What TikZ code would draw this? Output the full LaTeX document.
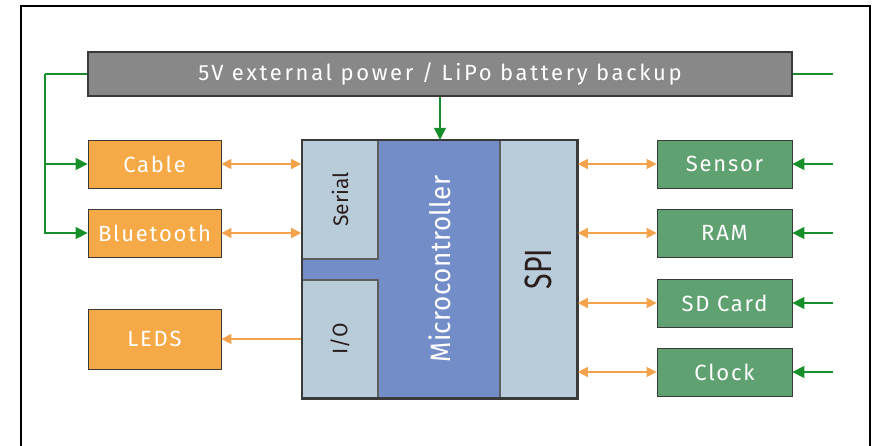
\documentclass[tikz,border=0pt]{standalone}
\usepackage{fontspec}
\setmainfont{Fira Sans}
\newfontfamily\powerfont[LetterSpace=12]{Fira Sans}
\newfontfamily\boxfont[LetterSpace=8]{Fira Sans}
\newfontfamily\mcfont[LetterSpace=2]{Fira Sans}
\usetikzlibrary{arrows.meta}
\definecolor{orangef}{HTML}{F5A947}
\definecolor{greenf}{HTML}{5FA170}
\definecolor{grayf}{HTML}{888888}
\definecolor{lblue}{HTML}{B9CCDA}
\definecolor{mblue}{HTML}{738DC8}
\definecolor{olinec}{HTML}{F5A24D}
\definecolor{glinec}{HTML}{17902B}
\definecolor{dtext}{HTML}{2A1E1E}
\definecolor{bordc}{HTML}{3A3A3A}
\definecolor{innerc}{HTML}{5E5E5E}
\tikzset{
  framestyle/.style={draw=black, line width=2pt},
  pbox/.style={draw=bordc, line width=1.3pt, fill=grayf, text=white, inner sep=0pt,
    minimum width=704pt, minimum height=44pt, font=\powerfont\fontsize{22}{24}\selectfont},
  obox/.style={draw=bordc, line width=0.8pt, fill=orangef, text=white, inner sep=0pt,
    minimum width=133pt, minimum height=48pt, font=\boxfont\fontsize{22}{24}\selectfont},
  gbox/.style={draw=bordc, line width=0.8pt, fill=greenf, text=white, inner sep=0pt,
    minimum width=135pt, minimum height=48pt, font=\boxfont\fontsize{22}{24}\selectfont},
  mcbox/.style={fill=mblue, inner sep=0pt, text=white,
    minimum width=275pt, minimum height=258pt, font=\mcfont\fontsize{28}{30}\selectfont},
  lbbox/.style={draw=innerc, line width=1.6pt, fill=lblue, inner sep=0pt, text=dtext,
    font=\fontsize{21}{23}\selectfont},
  oarr/.style={draw=olinec, line width=1.4pt,
    {Triangle[length=10pt,width=10pt]}-{Triangle[length=10pt,width=10pt]}},
  oarrone/.style={draw=olinec, line width=1.4pt, -{Triangle[length=10pt,width=10pt]}},
  gline/.style={draw=glinec, line width=1.4pt},
  garr/.style={draw=glinec, line width=1.4pt, -{Triangle[length=12pt,width=12pt]}},
}
\begin{document}
\begin{tikzpicture}[x=1pt,y=-1pt]
\useasboundingbox (0,0) rectangle (876,445);
\draw[framestyle] (21,446) -- (21,6) -- (870,6) -- (870,446);

\node[pbox] (power) at (440,74) {5V external power / LiPo battery backup};

\node[obox] (cable) at (154.5,164) {Cable};
\node[obox] (bt) at (154.5,233) {Bluetooth};
\node[obox, minimum height=60pt] (leds) at (154.5,339) {LEDS};

\node[gbox] (sensor) at (724.5,164) {Sensor};
\node[gbox] (ram) at (724.5,233) {RAM};
\node[gbox] (sd) at (724.5,303) {SD Card};
\node[gbox] (clock) at (724.5,372) {Clock};

\node[mcbox] (mc) at (439.5,269) {\rotatebox{90}{\scalebox{0.93}[1]{Microcontroller}}};
\node[lbbox, minimum width=76pt, minimum height=119pt] (serial) at (340,199.5) {\rotatebox{90}{Serial}};
\node[lbbox, minimum width=76pt, minimum height=118pt] (io) at (340,339) {\rotatebox{90}{I/O}};
\node[lbbox, minimum width=77pt, minimum height=258pt, font=\fontsize{38}{40}\selectfont] (spi) at (538.5,269) {\rotatebox{90}{\scalebox{0.75}[1]{SPI}}};
\draw[draw=bordc, line width=2.6pt] (mc.north west) rectangle (mc.south east);

% power distribution
\coordinate (gl) at (45,74);
\coordinate (gr) at (833,74);
\draw[gline] (power.west) -- (gl);
\draw[garr] (gl) |- (bt.west);
\draw[garr] (gl |- cable.west) -- (cable.west);
\draw[gline] (power.east) -- (gr);
\draw[garr] (gr |- sensor.east) -- (sensor.east);
\draw[garr] (gr |- ram.east) -- (ram.east);
\draw[garr] (gr |- sd.east) -- (sd.east);
\draw[garr] (gr |- clock.east) -- (clock.east);
\draw[garr] (power.south) -- (power.south |- mc.north);

% data links
\draw[oarr] (cable.east) -- (cable.east -| serial.west);
\draw[oarr] (bt.east) -- (bt.east -| serial.west);
\draw[oarrone] (leds.east -| io.west) -- (leds.east);
\draw[oarr] (sensor.west -| spi.east) -- (sensor.west);
\draw[oarr] (ram.west -| spi.east) -- (ram.west);
\draw[oarr] (sd.west -| spi.east) -- (sd.west);
\draw[oarr] (clock.west -| spi.east) -- (clock.west);
\end{tikzpicture}
\end{document}
